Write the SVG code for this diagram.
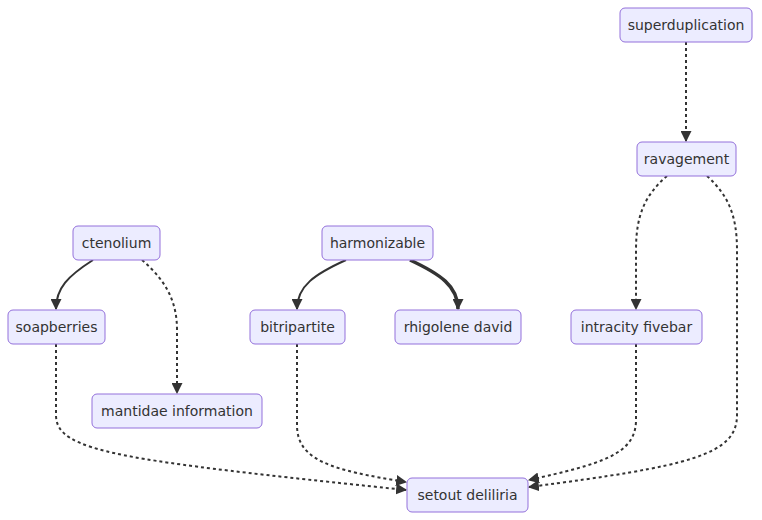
<svg xmlns="http://www.w3.org/2000/svg" width="762" height="520" viewBox="0 0 762 520">
<style>
.node rect{fill:#ECECFF;stroke:#9370DB;stroke-width:1}
.node text{font-family:"DejaVu Sans",sans-serif;font-size:14px;fill:#333;text-anchor:middle;dominant-baseline:central}
.e{fill:none;stroke:#333;stroke-width:2}
.d{stroke-dasharray:3 3}
.t{stroke-width:3.5}
</style>
<defs>
<marker id="ah" viewBox="0 0 10 10" refX="9" refY="5" markerWidth="11" markerHeight="11" markerUnits="userSpaceOnUse" orient="auto">
<path d="M0,0 L10,5 L0,10 z" fill="#333"/>
</marker>
</defs>
<rect width="762" height="520" fill="#fff"/>
<g id="edges">
<path class="e" d="M93,260 C68,276 56,288 56,309" marker-end="url(#ah)"/>
<path class="e d" d="M142,260 C165,280 177,300 177,330 L177,393" marker-end="url(#ah)"/>
<path class="e" d="M346,260 C315,274 297,286 297,309" marker-end="url(#ah)"/>
<path class="e t" d="M410,260 C440,274 458,286 458,309" marker-end="url(#ah)"/>
<path class="e d" d="M686,42 L686,141" marker-end="url(#ah)"/>
<path class="e d" d="M667,176 C645,195 636,215 636,250 L636,309" marker-end="url(#ah)"/>
<path class="e d" d="M707,176 C728,195 737,215 737,250 L737,415 C737,455 690,466 529,487" marker-end="url(#ah)"/>
<path class="e d" d="M636,344 L636,420 C636,455 600,464 529,480" marker-end="url(#ah)"/>
<path class="e d" d="M56,344 L56,415 C56,452 120,460 406,490" marker-end="url(#ah)"/>
<path class="e d" d="M297,344 L297,425 C297,460 330,470 406,482" marker-end="url(#ah)"/>
</g>
<g id="superduplication" class="node"><rect x="620" y="8" width="132" height="34" rx="5"/><text x="686" y="25">superduplication</text></g>
<g id="ravagement" class="node"><rect x="637" y="142" width="99" height="34" rx="5"/><text x="686.5" y="159">ravagement</text></g>
<g id="ctenolium" class="node"><rect x="73" y="226" width="87" height="34" rx="5"/><text x="116.5" y="243">ctenolium</text></g>
<g id="harmonizable" class="node"><rect x="322" y="226" width="111" height="34" rx="5"/><text x="377.5" y="243">harmonizable</text></g>
<g id="soapberries" class="node"><rect x="8" y="310" width="97" height="34" rx="5"/><text x="56.5" y="327">soapberries</text></g>
<g id="bitripartite" class="node"><rect x="250" y="310" width="95" height="34" rx="5"/><text x="297.5" y="327">bitripartite</text></g>
<g id="rhigolene_david" class="node"><rect x="395" y="310" width="126" height="34" rx="5"/><text x="458" y="327">rhigolene david</text></g>
<g id="intracity_fivebar" class="node"><rect x="571" y="310" width="131" height="34" rx="5"/><text x="636.5" y="327">intracity fivebar</text></g>
<g id="mantidae_information" class="node"><rect x="92" y="394" width="170" height="34" rx="5"/><text x="177" y="411">mantidae information</text></g>
<g id="setout_deliliria" class="node"><rect x="407" y="478" width="121" height="34" rx="5"/><text x="467.5" y="495">setout deliliria</text></g>
</svg>
